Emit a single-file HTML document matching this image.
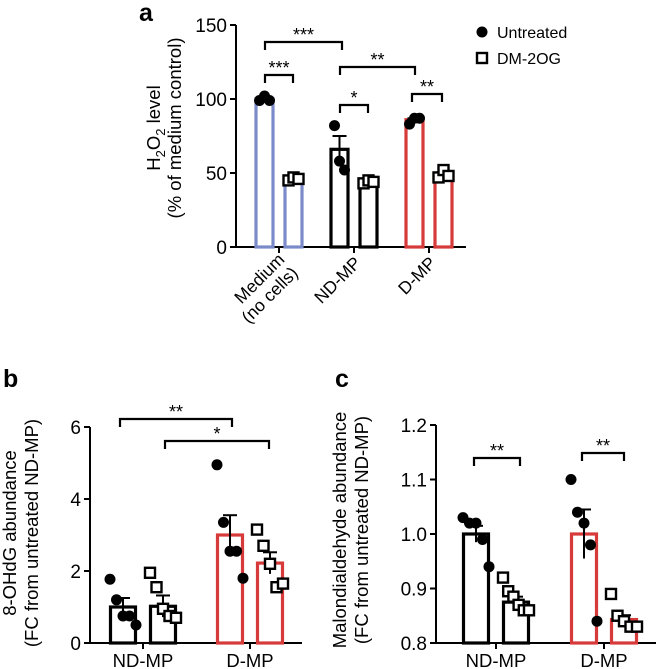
<!DOCTYPE html>
<html><head><meta charset="utf-8"><style>
body{margin:0;background:#fff;}
svg{display:block;font-family:"Liberation Sans",Arial,sans-serif;}
</style></head><body>
<svg id="s" width="661" height="669" viewBox="0 0 661 669" xmlns="http://www.w3.org/2000/svg">
<text x="139" y="21" font-size="25" font-weight="bold">a</text>
<text x="3" y="387" font-size="25" font-weight="bold">b</text>
<text x="335" y="387" font-size="25" font-weight="bold">c</text>
<g font-size="18.5">
<text transform="translate(160,128) rotate(-90)" text-anchor="middle">H<tspan font-size="13" dy="5">2</tspan><tspan dy="-5">O</tspan><tspan font-size="13" dy="5">2</tspan><tspan dy="-5"> level</tspan></text>
<text transform="translate(181,128) rotate(-90)" text-anchor="middle">(% of medium control)</text>
</g>
<g font-size="18.5">
<text transform="translate(16,533) rotate(-90)" text-anchor="middle">8-OHdG abundance</text>
<text transform="translate(38,533) rotate(-90)" text-anchor="middle">(FC from untreated ND-MP)</text>
</g>
<g font-size="18.5">
<text transform="translate(346,530) rotate(-90)" text-anchor="middle">Malondialdehyde abundance</text>
<text transform="translate(368,530) rotate(-90)" text-anchor="middle">(FC from untreated ND-MP)</text>
</g>
<g>
<circle cx="482" cy="32" r="5.5" fill="#000"/>
<text x="497" y="38" font-size="16">Untreated</text>
<rect x="477" y="53" width="10" height="10" fill="#fff" stroke="#000" stroke-width="2.4"/>
<text x="497" y="64" font-size="16">DM-2OG</text>
</g>
</svg>
<script>
// Panel a data
const aCats=["Medium|(no cells)","ND-MP","D-MP"];
const aUntreatedMean=[100,66,86];
const aTreatedMean=[46,44,49];
const aUntreatedSem=[1,9,1];
const aTreatedSem=[1,1,1.5];
const aUntreatedPts=[[99,102,99],[82,58,52],[83,87,87]];
const aTreatedPts=[[45,47,46],[43,45,44],[47,52,48]];
const aTicks=[0,50,100,150];
// Panel b data
const bCats=["ND-MP","D-MP"];
const bUntreatedMean=[1.0,3.0];
const bTreatedMean=[1.02,2.22];
const bUntreatedSem=[0.25,0.55];
const bTreatedSem=[0.3,0.3];
const bUntreatedPts=[[1.77,1.2,0.75,0.75,0.5],[4.95,3.35,2.55,2.55,1.8]];
const bTreatedPts=[[1.95,1.55,0.95,0.75,0.7],[3.15,2.7,2.2,1.55,1.65]];
const bTicks=[0,2,4,6];
// Panel c data
const cCats=["ND-MP","D-MP"];
const cUntreatedMean=[1.0,1.0];
const cTreatedMean=[0.875,0.843];
const cUntreatedSem=[0.015,0.045];
const cTreatedSem=[0.01,0.008];
const cUntreatedPts=[[1.03,1.02,1.02,0.99,0.94],[1.10,1.04,1.02,0.98,0.84]];
const cTreatedPts=[[0.92,0.895,0.885,0.87,0.86,0.86],[0.89,0.85,0.84,0.83,0.83]];
const cTicks=["0.8","0.9","1.0","1.1","1.2"];

const NS="http://www.w3.org/2000/svg";
const svg=document.getElementById('s');
function mk(t,a,p){const e=document.createElementNS(NS,t);for(const k in a)e.setAttribute(k,a[k]);(p||svg).appendChild(e);return e;}

function panel(o){
  const g=mk('g',{});
  
  
  const y=v=>o.y0-(v-o.vmin)*(o.y0-o.y1)/(o.vmax-o.vmin);
  const ya=mk('line',{x1:o.ax,x2:o.ax,y1:y(o.vmax),y2:o.y0+1,stroke:'#000','stroke-width':2},g);
  
  const xa=mk('line',{x1:o.ax-1,x2:o.axEnd,y1:o.y0,y2:o.y0,stroke:'#000','stroke-width':2},g);
  
  o.ticks.forEach(t=>{
    const v=parseFloat(t);
    mk('line',{x1:o.ax-6,x2:o.ax,y1:y(v),y2:y(v),stroke:'#000','stroke-width':2},g);
    const tx=mk('text',{x:o.ax-9,y:y(v)+7,'text-anchor':'end','font-size':19},g);
    tx.textContent=t;
    
    
  });
  o.cats.forEach((c,i)=>{
    const cx=o.c0+i*o.step;
    mk('line',{x1:cx,x2:cx,y1:o.y0,y2:o.y0+6,stroke:'#000','stroke-width':2},g);
    const lines=c.split('|');
    const tx=mk('text',{'font-size':o.rot?17.5:18.5,'text-anchor':o.rot?'end':'middle'},g);
    
    
    if(o.rot){
      lines.forEach((l,j)=>{const ts=mk('tspan',{x:0,y:j*19-(lines.length-1)*19},tx);ts.textContent=l;});
      if(lines.length>1){tx.setAttribute('transform',`translate(${cx+20},${o.y0+27}) rotate(-45)`);}
      else tx.setAttribute('transform',`translate(${cx+8},${o.y0+17}) rotate(-45)`);
    } else {tx.setAttribute('x',cx);tx.setAttribute('y',o.y0+24);tx.textContent=lines[0];}
    const col=o.colors[i];
    [[o.um,o.us,o.up,-1],[o.tm,o.ts,o.tp,1]].forEach(([m,s,p,side],k)=>{
      const bx=cx+side*o.off-o.bw/2;
      const r=mk('rect',{x:bx,y:y(m[i]),width:o.bw,height:o.y0-y(m[i]),fill:'none',stroke:col,'stroke-width':3.2},g);
      
      
      const bc=bx+o.bw/2;
      mk('line',{x1:bc,x2:bc,y1:y(m[i]-s[i]),y2:y(m[i]+s[i]),stroke:'#000','stroke-width':2},g);
      mk('line',{x1:bc-7,x2:bc+7,y1:y(m[i]+s[i]),y2:y(m[i]+s[i]),stroke:'#000','stroke-width':2},g);
      const n=p[i].length;
      p[i].forEach((v,j)=>{
        const dx=n>1?(j/(n-1)-0.5)*o.spread:0;
        let e;
        if(k===0){e=mk('circle',{cx:bc+dx,cy:y(v),r:5.5,fill:'#000'},g);}
        else{e=mk('rect',{x:bc+dx-5,y:y(v)-5,width:10,height:10,fill:'#fff',stroke:'#000','stroke-width':2.4},g);}
        
        
      });
    });
  });
  o.brackets.forEach(b=>{
    const p=mk('path',{d:`M${b[0]},${b[2]+8}V${b[2]}H${b[1]}V${b[2]+8}`,fill:'none',stroke:'#000','stroke-width':2.2},g);
    
    
    const t=mk('text',{x:(b[0]+b[1])/2,y:b[2]-1,'text-anchor':'middle','font-size':18},g);
    t.textContent=b[3];
    
    
  });
}
panel({name:'panel-a',cats:aCats,um:aUntreatedMean,tm:aTreatedMean,us:aUntreatedSem,ts:aTreatedSem,up:aUntreatedPts,tp:aTreatedPts,
  ticks:aTicks.map(String),vmin:0,vmax:150,y0:247,y1:25,ax:236,axEnd:466,c0:279,step:75,off:14.5,bw:17,spread:10,rot:true,
  colors:['#7b8ac8','#000','#d63a3a'],
  brackets:[[265,342,42,'***'],[265,293,75,'***'],[340,415,67,'**'],[340,368,105,'*'],[412,442,94,'**']]});
panel({name:'panel-b',cats:bCats,um:bUntreatedMean,tm:bTreatedMean,us:bUntreatedSem,ts:bTreatedSem,up:bUntreatedPts,tp:bTreatedPts,
  ticks:bTicks.map(String),vmin:0,vmax:6,y0:643,y1:427,ax:90,axEnd:302,c0:143,step:107,off:20,bw:25,spread:26,rot:false,
  colors:['#000','#d63a3a'],
  brackets:[[120,232,419,'**'],[165,269,441,'*']]});
panel({name:'panel-c',cats:cCats,um:cUntreatedMean,tm:cTreatedMean,us:cUntreatedSem,ts:cTreatedSem,up:cUntreatedPts,tp:cTreatedPts,
  ticks:cTicks,vmin:0.8,vmax:1.2,y0:643,y1:425,ax:436,axEnd:656,c0:496,step:108,off:20,bw:25,spread:26,rot:false,
  colors:['#000','#d63a3a'],
  brackets:[[474,520,458,'**'],[582,624,453,'**']]});
</script>
</body></html>
